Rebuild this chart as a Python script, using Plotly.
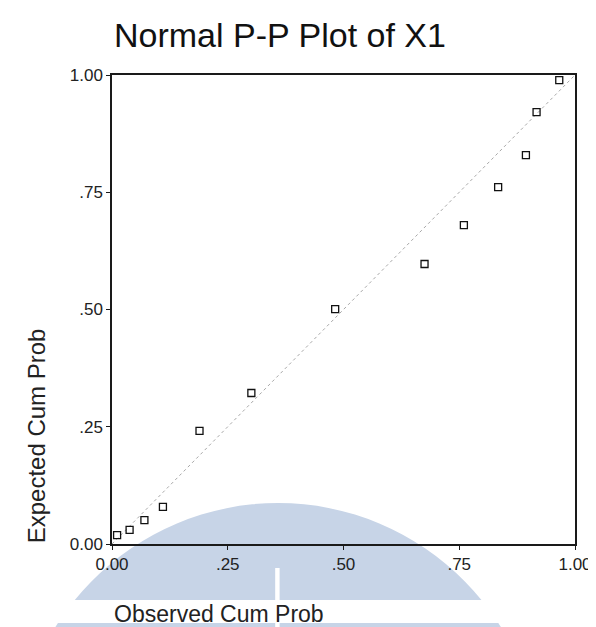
import plotly.graph_objects as go

# Data (observed vs expected cumulative probabilities)
observed = [0.011, 0.038, 0.070, 0.110, 0.189, 0.301, 0.482, 0.675, 0.760, 0.834, 0.894, 0.917, 0.966]
expected = [0.019, 0.030, 0.051, 0.079, 0.241, 0.322, 0.501, 0.597, 0.680, 0.761, 0.829, 0.921, 0.989]
ref_line = [0.0, 1.0]
tick_vals = [0, 0.25, 0.5, 0.75, 1.0]
tick_text = ["0.00", ".25", ".50", ".75", "1.00"]

W, H = 596, 627
L, R, T, B = 104, 21, 67, 91
pw, ph = W - L - R, H - T - B


def px_x(p):
    return (p - L) / pw


def px_y(p):
    return (H - B - p) / ph


fig = go.Figure()
fig.add_trace(go.Scatter(x=ref_line, y=ref_line, mode="lines",
                         line=dict(color="#a8a8a8", width=1, dash="dot"),
                         hoverinfo="skip", showlegend=False))
fig.add_trace(go.Scatter(x=observed, y=expected, mode="markers",
                         marker=dict(symbol="square-open", size=7,
                                     color="#111111", line=dict(width=1.3, color="#111111")),
                         cliponaxis=False, showlegend=False))

wm = "#c7d4e7"
shapes = [
    dict(type="circle", xref="paper", yref="paper",
         x0=px_x(4), x1=px_x(542), y0=px_y(495), y1=px_y(1033),
         fillcolor=wm, line=dict(width=0), layer="below"),
    dict(type="rect", xref="paper", yref="paper",
         x0=px_x(0), x1=px_x(596), y0=px_y(592), y1=px_y(615),
         fillcolor="white", line=dict(width=0), layer="below"),
    dict(type="rect", xref="paper", yref="paper",
         x0=px_x(270), x1=px_x(274.5), y0=px_y(560), y1=px_y(640),
         fillcolor="white", line=dict(width=0), layer="below"),
]

axis_common = dict(range=[0, 1], tickvals=tick_vals, ticktext=tick_text,
                   showgrid=False, zeroline=False, showline=True, mirror=True,
                   linecolor="#1a1a1a", linewidth=1.5, ticks="outside",
                   ticklen=4, tickcolor="#1a1a1a", tickwidth=1,
                   tickfont=dict(family="Liberation Sans, Arial, sans-serif", size=17, color="#222222"))

fig.update_layout(
    width=W, height=H,
    margin=dict(l=L, r=R, t=T, b=B),
    paper_bgcolor="white", plot_bgcolor="rgba(0,0,0,0)",
    xaxis=dict(**axis_common),
    yaxis=dict(**axis_common),
    shapes=shapes,
    annotations=[
        dict(text="Normal P-P Plot of X1", xref="paper", yref="paper",
             x=px_x(275), y=px_y(27), xanchor="center", yanchor="middle", showarrow=False,
             font=dict(family="Liberation Sans, Arial, sans-serif", size=34, color="#111111")),
        dict(text="Observed Cum Prob", xref="paper", yref="paper",
             x=px_x(104), y=px_y(621), xanchor="left", yanchor="bottom", showarrow=False,
             font=dict(family="Liberation Sans, Arial, sans-serif", size=23, color="#222222")),
        dict(text="Expected Cum Prob", xref="paper", yref="paper",
             x=px_x(27), y=px_y(428), xanchor="center", yanchor="middle", showarrow=False,
             textangle=-90,
             font=dict(family="Liberation Sans, Arial, sans-serif", size=24, color="#222222")),
    ],
)

fig.write_html("out.html")
